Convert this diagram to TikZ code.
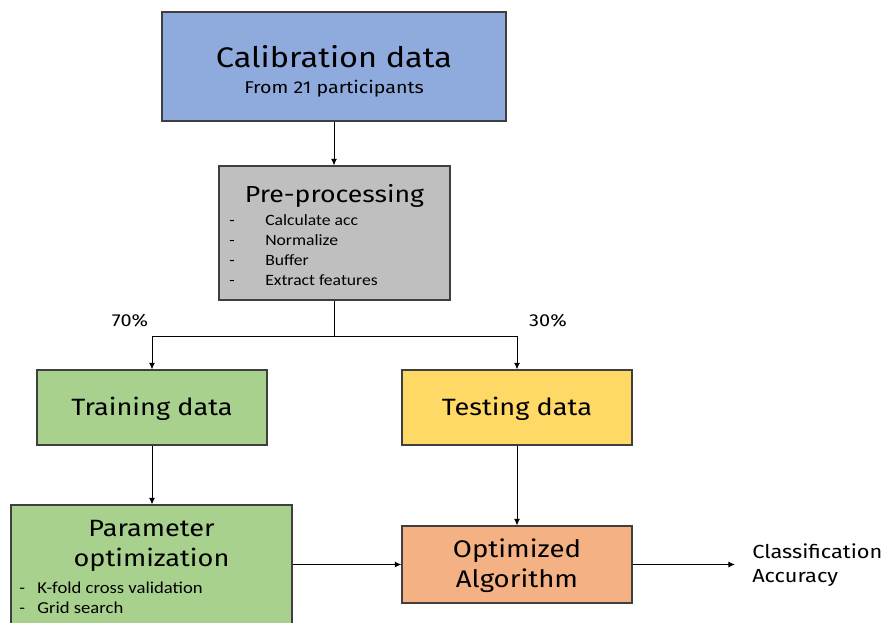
\documentclass[tikz,border=0pt]{standalone}
\usepackage{fontspec}
\setmainfont{Fira Sans}[FakeStretch=1.15]
\newfontfamily\listfont{Carlito}[FakeStretch=1.12]
\usepackage{tikz}
\usetikzlibrary{arrows.meta,calc}
\definecolor{calblue}{HTML}{8FAADC}
\definecolor{pregray}{HTML}{BFBFBF}
\definecolor{traingreen}{HTML}{A9D18E}
\definecolor{testyellow}{HTML}{FFD966}
\definecolor{algoorange}{HTML}{F4B183}
\definecolor{boxline}{HTML}{3F3F3F}
\newcommand{\fsz}[1]{\fontsize{#1}{1.25\dimexpr#1pt\relax}\selectfont}
\tikzset{
  box/.style={draw=boxline,line width=0.8pt,inner sep=0pt},
  link/.style={line width=0.75pt,-{Latex[length=5pt,width=4.5pt]}},
  txt/.style={inner sep=0pt,text=black},
  item/.style={txt,anchor=base west,font=\listfont\fsz{11.8}},
}

\begin{document}
\begin{tikzpicture}[x=0.75pt,y=-0.75pt]
    \useasboundingbox (0,0) rectangle (886,622);
    \clip (0,0) rectangle (886,622);
    %% the boxes
    \node (calib) at (334,66.5) [box,fill=calblue,minimum width=258pt,minimum height=81.75pt]{};
    \node (prep) at (334.5,233) [box,fill=pregray,minimum width=173.25pt,minimum height=100.5pt]{};
    \node (train) at (152,407.5) [box,fill=traingreen,minimum width=172.5pt,minimum height=56.25pt]{};
    \node (test) at (517,407.5) [box,fill=testyellow,minimum width=172.5pt,minimum height=56.25pt]{};
    \node (param) at (151.5,572.5) [box,fill=traingreen,minimum width=210.75pt,minimum height=101.25pt]{};
    \node (algo) at (517,564.5) [box,fill=algoorange,minimum width=172.5pt,minimum height=57.75pt]{};
    %% texts
    \node (calibT) at (334,57) [txt,font=\fsz{21.2}]{Calibration data};
    \node (calibS) at (334,89) [txt,font=\fsz{12.8}]{From 21 participants};
    \node (prepT) at (334.5,196) [txt,font=\fsz{17.4}]{Pre-processing};
    \foreach \t [count=\i] in {Calculate acc,Normalize,Buffer,Extract features}{
      \node (prepD\i) at (229,205+20*\i) [item]{-};
      \node (prepI\i) at (265,205+20*\i) [item]{\t};
    }
    \node (trainT) at (152,409) [txt,font=\fsz{17.7}]{Training data};
    \node (testT) at (517,409) [txt,font=\fsz{17.7}]{Testing data};
    \node (paramT) at (151.5,546) [txt,font=\fsz{17.7},align=center]{Parameter\\optimization};
    \node (paramD1) at (19,593) [item,font=\listfont\fsz{12.5}]{-};
    \node (paramI1) at (37,593) [item,font=\listfont\fsz{12.5}]{K-fold cross validation};
    \node (paramD2) at (19,613) [item,font=\listfont\fsz{12.5}]{-};
    \node (paramI2) at (37,613) [item,font=\listfont\fsz{12.5}]{Grid search};
    \node (algoT) at (517,566) [txt,font=\fsz{18},align=center]{Optimized\\Algorithm};
    \node (result) at (752,565) [txt,anchor=west,font=\fsz{14.2},align=left]{Classification\\Accuracy};
    \node (pct70) at (130,321) [txt,font=\fsz{13}]{70\%};
    \node (pct30) at (548,321) [txt,font=\fsz{13}]{30\%};
    %% connectors
    \coordinate (split) at (334,336);
    \coordinate (out) at (735,564.5);
    \draw[link] (calib.south) -- (prep.north -| calib.south);
    \draw[line width=0.75pt] (prep.south -| split) -- (split);
    \draw[link] (split) -| (train.north);
    \draw[link] (split) -| (test.north);
    \draw[link] (train.south) -- (train.south |- param.north);
    \draw[link] (test.south) -- (algo.north);
    \draw[link] (param.east |- algo.west) -- (algo.west);
    \draw[link] (algo.east) -- (out);
\end{tikzpicture}
\end{document}
